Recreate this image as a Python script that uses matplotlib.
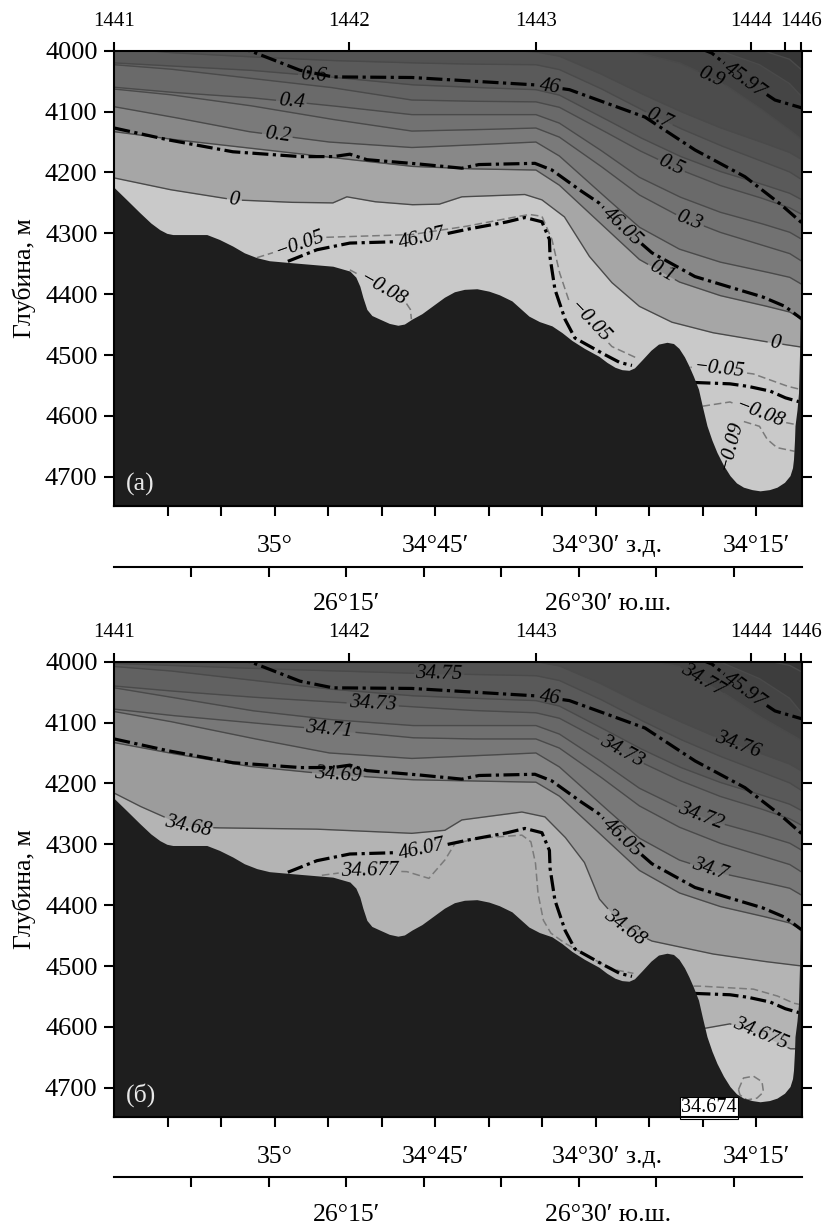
import numpy as np
import matplotlib
matplotlib.use('Agg')
import matplotlib.pyplot as plt

plt.rcParams['font.family'] = ['Liberation Serif', 'DejaVu Serif']

# distance along the section, km (station 1441 = 0)
XMAX = 137.5
stations_km = [0, 46.9, 84.3, 127.4, 134.1, 137.4]
stations_lab = ['1441', '1442', '1443', '1444', '', '1446']
depth_ticks = [4000, 4100, 4200, 4300, 4400, 4500, 4600, 4700]

lon_ticks_km = [10.7, 21.4, 32.1, 42.8, 53.5, 64.2, 74.9, 85.6, 96.3, 107.0, 117.7, 128.3]
lon_lab_km = [32.1, 64.2, 98.6, 128.3]
lon_lab = ['35°', '34°45′', '34°30′ з.д.', '34°15′']
lat_ticks_km = [15.4, 30.9, 46.4, 61.9, 77.4, 92.9, 108.4, 123.9]
lat_lab_km = [46.4, 98.7]
lat_lab = ['26°15′', '26°30′ ю.ш.']

# bottom topography
bottom_km = [0, 2.5, 5.1, 7.3, 9.1, 10.5, 11.7, 18.5, 21, 23.7, 26, 28.5, 31, 35.1, 43.7,
             47.1, 48.3, 49.1, 49.7, 50.5, 51.5, 53.1, 55, 56.7, 58, 59.5, 61.5, 63.5, 66,
             68, 70, 72.5, 74.9, 77, 79.5, 82.9, 85, 87.5, 89.5, 91.5, 94, 96.9, 98.5,
             100.1, 101.5, 102.9, 104, 105.5, 107.3, 108.8, 110.5, 111.8, 112.9, 114,
             114.9, 115.8, 116.8, 117.6, 118.5, 119.5, 120.5, 121.8, 123.1, 124.4, 125.8,
             127.5, 129.1, 131, 132.5, 134, 135.1, 135.6, 135.8, 136.0, 136.1, 136.5,
             136.8, 137.0, 137.1, 137.5]
bottom_d = [4225, 4245, 4266, 4283, 4294, 4300, 4302, 4302, 4310, 4321, 4332, 4340, 4345,
            4348, 4354, 4362, 4372, 4387, 4405, 4425, 4435, 4441, 4448, 4451, 4449, 4441,
            4432, 4420, 4405, 4396, 4392, 4391, 4395, 4401, 4411, 4436, 4445, 4452, 4463,
            4476, 4489, 4502, 4512, 4520, 4524, 4525, 4521, 4508, 4492, 4482, 4479, 4481,
            4489, 4503, 4518, 4535, 4556, 4585, 4616, 4640, 4660, 4681, 4698, 4710, 4717,
            4721, 4723, 4721, 4717, 4709, 4698, 4685, 4671, 4640, 4616, 4590, 4562, 4500,
            4440, 4435]

# neutral density isolines (dash-dot), same in both panels
g4597_km = [117.1, 119.5, 126.1, 132.1, 137.5]
g4597_d = [3996, 4004, 4048, 4081, 4094]
g46_km = [24, 27.1, 37.1, 43.7, 59.5, 84.1, 91, 106.1, 116.1, 126.1, 132.9, 137.5]
g46_d = [3995, 4000, 4032, 4043, 4044, 4056, 4064, 4109, 4163, 4207, 4250, 4283]
g4605_km = [0, 10.5, 23.7, 37.1, 43.7, 47.1, 50.5, 59.5, 69.5, 72.9, 84.1, 87.5, 92.9,
            96.9, 101.5, 107.5, 116.1, 122.9, 129.5, 134.1, 137.5]
g4605_d = [4127, 4146, 4166, 4174, 4174, 4170, 4179, 4185, 4193, 4187, 4185, 4196, 4228,
           4250, 4289, 4332, 4371, 4388, 4404, 4420, 4441]
g4607a_km = [34.7, 40.5, 47.1, 59.5, 70.1, 78.1, 82.1, 85.5, 87.0, 87.1, 88.1, 90.1, 92.1,
             97.1, 101.0, 103.5]
g4607a_d = [4346, 4327, 4316, 4313, 4294, 4282, 4274, 4281, 4310, 4338, 4392, 4441, 4472,
            4495, 4512, 4517]
g4607b_km = [116.0, 122.9, 126.5, 131.1, 134.1, 137.5]
g4607b_d = [4545, 4547, 4551, 4559, 4570, 4578]

# (a) potential temperature isolines on a common x grid
iso_km = [0, 11, 27, 43, 59.5, 71, 84.3, 89, 97, 105, 113, 121, 129, 135, 137.5]
t11 = [3960, 3962, 3965, 3968, 3970, 3972, 3975, 3978, 3982, 3986, 3990, 3992, 3998, 4014, 4032]
t10 = [3960, 3962, 3965, 3968, 3970, 3972, 3975, 3978, 3982, 3988, 3995, 4000, 4023, 4054, 4076]
t09 = [3960, 3962, 3965, 3968, 3972, 3976, 3982, 3986, 3992, 4004, 4020, 4050, 4094, 4130, 4146]
t08 = [3970, 3972, 3975, 3980, 3988, 3994, 4002, 4009, 4037, 4069, 4099, 4126, 4149, 4167, 4179]
t07 = [3995, 4003, 4010, 4016, 4020, 4022, 4023, 4031, 4061, 4095, 4127, 4155, 4180, 4199, 4212]
t06 = [4020, 4025, 4032, 4043, 4056, 4060, 4064, 4073, 4107, 4142, 4173, 4198, 4218, 4234, 4245]
t05 = [4023, 4030, 4045, 4060, 4081, 4083, 4084, 4093, 4128, 4164, 4195, 4221, 4241, 4258, 4269]
t04 = [4060, 4068, 4077, 4090, 4105, 4105, 4105, 4119, 4162, 4208, 4240, 4265, 4283, 4298, 4310]
t03 = [4063, 4072, 4090, 4112, 4132, 4130, 4127, 4142, 4188, 4237, 4272, 4298, 4318, 4333, 4346]
t02 = [4092, 4108, 4133, 4150, 4159, 4155, 4150, 4173, 4232, 4290, 4326, 4347, 4361, 4372, 4384]
t01 = [4133, 4145, 4160, 4175, 4190, 4194, 4196, 4221, 4282, 4343, 4380, 4402, 4417, 4429, 4441]
t00_km = [0, 11, 24, 35, 43.7, 46.5, 52, 59.5, 65, 69.5, 76, 82, 85.5, 90, 95, 99.5, 105,
          111.5, 119.5, 129.5, 137.5]
t00_d = [4209, 4228, 4245, 4249, 4250, 4240, 4248, 4253, 4252, 4240, 4238, 4236, 4245, 4273,
         4338, 4381, 4420, 4446, 4463, 4477, 4487]
temp_colors = ['#3e3e3e', '#454545', '#4c4c4c', '#535353', '#5a5a5a', '#636363', '#6a6a6a',
               '#727272', '#7a7a7a', '#888888', '#a6a6a6', '#c9c9c9']

# negative temperatures (dashed)
m005a_km = [28.5, 37.1, 40.5, 59.5, 70, 79.5, 83, 85.5, 87.5, 89, 91, 95, 99.5, 104.5]
m005a_d = [4340, 4318, 4307, 4302, 4289, 4274, 4269, 4272, 4310, 4364, 4413, 4446, 4486, 4505]
m008a_km = [47.1, 50.5, 53.8, 57.9, 59.2, 59.4]
m008a_d = [4360, 4375, 4392, 4409, 4425, 4441]
m005b_km = [115.2, 120.5, 127.8, 134.5, 137.0]
m005b_d = [4520, 4523, 4531, 4551, 4556]
m008b_km = [117.6, 123.1, 129.1, 133.1, 136.2]
m008b_d = [4584, 4577, 4597, 4609, 4614]
m009_km = [122.6, 123.1, 124.3, 125.8, 129, 130.5, 132.5, 136.0]
m009_d = [4688, 4650, 4625, 4609, 4617, 4638, 4652, 4658]

# (б) salinity isolines
s79 = [3960, 3962, 3965, 3968, 3970, 3972, 3975, 3978, 3982, 3986, 3990, 3993, 3996, 4006, 4017]
s78 = [3960, 3962, 3965, 3968, 3970, 3972, 3975, 3978, 3982, 3988, 3995, 4000, 4028, 4060, 4085]
s77 = [3960, 3962, 3965, 3968, 3972, 3976, 3982, 3986, 3992, 3997, 4008, 4047, 4090, 4118, 4130]
s76 = [3970, 3972, 3975, 3980, 3988, 3994, 4000, 4007, 4035, 4068, 4098, 4126, 4150, 4168, 4180]
s75 = [4003, 4006, 4011, 4015, 4019, 4021, 4023, 4031, 4061, 4095, 4127, 4155, 4180, 4199, 4212]
s74 = [4008, 4015, 4030, 4045, 4056, 4060, 4064, 4073, 4107, 4142, 4173, 4198, 4218, 4234, 4245]
s73 = [4040, 4048, 4058, 4066, 4074, 4080, 4084, 4093, 4128, 4164, 4195, 4221, 4241, 4258, 4269]
s72 = [4043, 4058, 4080, 4095, 4105, 4105, 4105, 4119, 4162, 4208, 4240, 4265, 4283, 4298, 4310]
s71 = [4078, 4088, 4100, 4112, 4125, 4127, 4127, 4142, 4188, 4237, 4272, 4298, 4318, 4333, 4346]
s70 = [4082, 4098, 4125, 4150, 4159, 4155, 4150, 4173, 4232, 4290, 4326, 4347, 4361, 4372, 4384]
s69 = [4133, 4150, 4172, 4185, 4194, 4196, 4198, 4221, 4282, 4343, 4380, 4402, 4417, 4429, 4441]
s68_km = [0, 5, 10.5, 14.8, 20.5, 40, 59.5, 66.1, 69.5, 81.5, 86.1, 90.1, 94, 97, 102, 107.5,
          119.5, 129.5, 137.5]
s68_d = [4216, 4237, 4257, 4271, 4273, 4275, 4282, 4277, 4260, 4247, 4255, 4288, 4330, 4390,
         4437, 4459, 4480, 4492, 4500]
s675_km = [116.5, 117.6, 123.1, 129.1, 135.2, 137.5]
s675_d = [4603, 4603, 4595, 4612, 4636, 4636]
sal_colors = ['#3d3d3d', '#444444', '#4b4b4b', '#525252', '#595959', '#616161', '#686868',
              '#707070', '#787878', '#858585', '#9c9c9c', '#b4b4b4', '#c8c8c8']

s677a_km = [41.5, 46, 51.1, 58.5, 62.9, 66.1, 68.1, 72.9, 81.5, 83.3, 84.2, 84.7, 85.8, 87.3,
            90, 93, 96.5, 100, 103.8]
s677a_d = [4351, 4346, 4343, 4345, 4356, 4326, 4299, 4290, 4285, 4296, 4330, 4380, 4425, 4446,
           4462, 4476, 4492, 4506, 4512]
s677b_km = [115.8, 117.1, 127.8, 132.5, 135.8, 137.0]
s677b_d = [4533, 4533, 4538, 4549, 4561, 4563]
s674_km = [124.8, 125.8, 127.8, 129.5, 129.8, 128.5, 126.5, 125.1, 124.8]
s674_d = [4703, 4684, 4681, 4690, 4707, 4717, 4720, 4712, 4703]

fig = plt.figure(figsize=(8.24, 12.28), dpi=100)
renderer = fig.canvas.get_renderer()

L, W, H = 0.1387, 0.8346, 0.3708

solid_kw = dict(color='#4a4a4a', lw=1.0, zorder=2)
dash_kw = dict(color='#7a7a7a', lw=1.1, ls=(0, (5, 2.5)), zorder=2)
dd_kw = dict(color='black', lw=2.3, ls=(0, (5, 1.4, 1.0, 1.4)), zorder=3)


def densify(xs, ds, n=40):
    xs = np.asarray(xs, float)
    ds = np.asarray(ds, float)
    i = np.arange(len(xs))
    t = np.linspace(0, len(xs) - 1, (len(xs) - 1) * n + 1)
    return np.interp(t, i, xs), np.interp(t, i, ds)


def draw_iso(ax, xs, ds, labels=(), fs=15, **kw):
    x, d = densify(xs, ds)
    pts = ax.transData.transform(np.column_stack([x, d]))
    s = np.concatenate([[0], np.cumsum(np.hypot(*np.diff(pts, axis=0).T))])
    keep = np.ones(len(x), bool)
    for text, lx, ld in labels:
        tp = ax.transData.transform((lx, ld))
        k = np.argmin(np.hypot(pts[:, 0] - tp[0], pts[:, 1] - tp[1]))
        idx = np.where(np.abs(s - s[k]) < 10)[0]
        dx, dy = pts[idx[-1]] - pts[idx[0]]
        ang = np.degrees(np.arctan2(dy, dx))
        if ang > 90:
            ang -= 180
        elif ang < -90:
            ang += 180
        t = ax.text(x[k], d[k], text, ha='center', va='center', fontsize=fs,
                    style='italic', rotation_mode='anchor', zorder=6)
        w = t.get_window_extent(renderer).width
        t.set_rotation(ang)
        keep &= np.abs(s - s[k]) > w / 2 + 2
    ax.plot(np.where(keep, x, np.nan), d, **kw)


def make_panel(bottom, lat_y, top_color, letter):
    ax = fig.add_axes([L, bottom, W, H])
    ax.set_xlim(0, XMAX)
    ax.set_ylim(4748, 4000)
    ax.set_facecolor(top_color)
    for sp in ax.spines.values():
        sp.set_linewidth(1.5)
        sp.set_zorder(10)
    ax.set_yticks(depth_ticks)
    ax.tick_params(axis='y', direction='out', length=7, width=1.5, labelsize=19,
                   pad=5, right=True, labelright=False)
    ax.xaxis.tick_top()
    ax.set_xticks(stations_km)
    ax.set_xticklabels(stations_lab)
    ax.tick_params(axis='x', direction='out', length=6.5, width=1.5, labelsize=15, pad=8)
    ax.text(-0.1313, 0.5, 'Глубина, м', transform=ax.transAxes, rotation=90,
            ha='center', va='center', fontsize=18.5)

    sec = ax.secondary_xaxis('bottom')
    sec.set_xticks(lon_ticks_km)
    sec.set_xticklabels([])
    sec.tick_params(direction='out', length=7.5, width=1.5)
    sec.spines['bottom'].set_linewidth(1.5)
    for x, txt in zip(lon_lab_km, lon_lab):
        ax.annotate(txt, xy=(x, 0), xycoords=('data', 'axes fraction'), xytext=(0, -29),
                    textcoords='offset points', ha='center', va='center', fontsize=18.5,
                    annotation_clip=False)

    lat = fig.add_axes([L, lat_y, W, 0.0001])
    lat.set_xlim(0, XMAX)
    lat.patch.set_visible(False)
    for s in ['top', 'left', 'right']:
        lat.spines[s].set_visible(False)
    lat.spines['bottom'].set_linewidth(1.5)
    lat.set_yticks([])
    lat.set_xticks(lat_ticks_km)
    lat.set_xticklabels([])
    lat.tick_params(axis='x', direction='out', length=7.5, width=1.5)
    for x, txt in zip(lat_lab_km, lat_lab):
        lat.annotate(txt, xy=(x, 0), xycoords=('data', 'axes fraction'), xytext=(0, -27),
                     textcoords='offset points', ha='center', va='center', fontsize=18.5,
                     annotation_clip=False)

    ax.fill_between(bottom_km, bottom_d, 4800, color='#1e1e1e', lw=0, zorder=4)
    ax.text(2.3, 4712, letter, color='#e8e8e8', fontsize=18.5, ha='left', va='center', zorder=7)

    draw_iso(ax, g4597_km, g4597_d, [('45.97', 126.1, 4048)], **dd_kw)
    draw_iso(ax, g46_km, g46_d, [('46', 87, 4062)], **dd_kw)
    draw_iso(ax, g4605_km, g4605_d, [('46.05', 101.5, 4289)], **dd_kw)
    draw_iso(ax, g4607a_km, g4607a_d, [('46.07', 61.5, 4306)], **dd_kw)
    draw_iso(ax, g4607b_km, g4607b_d, **dd_kw)
    return ax


# ---- panel (a): potential temperature ----
axa = make_panel(0.5879, 0.5385, '#373737', '(а)')
temp_lines = [t11, t10, t09, t08, t07, t06, t05, t04, t03, t02, t01]
for d, c in zip(temp_lines, temp_colors[:-1]):
    axa.fill_between(iso_km, d, 4800, color=c, lw=0, zorder=1)
axa.fill_between(t00_km, t00_d, 4800, color=temp_colors[-1], lw=0, zorder=1)

temp_labels = {
    9: [('0.9', 119.5, 4043)], 7: [('0.7', 109, 4109)], 6: [('0.6', 39.7, 4045)],
    5: [('0.5', 111, 4196)], 4: [('0.4', 35.5, 4084)], 3: [('0.3', 114.7, 4286)],
    2: [('0.2', 32.5, 4141)], 1: [('0.1', 110, 4354)],
}
for d, lev in zip(temp_lines, [11, 10, 9, 8, 7, 6, 5, 4, 3, 2, 1]):
    draw_iso(axa, iso_km, d, temp_labels.get(lev, []), **solid_kw)
draw_iso(axa, t00_km, t00_d, [('0', 24.1, 4245), ('0', 132, 4485)], **solid_kw)
draw_iso(axa, m005a_km, m005a_d, [('−0.05', 37.1, 4318), ('−0.05', 95, 4446)], **dash_kw)
draw_iso(axa, m008a_km, m008a_d, [('−0.08', 53.8, 4392)], **dash_kw)
draw_iso(axa, m005b_km, m005b_d, [('−0.05', 121, 4522)], **dash_kw)
draw_iso(axa, m008b_km, m008b_d, [('−0.08', 129.1, 4597)], **dash_kw)
draw_iso(axa, m009_km, m009_d, [('−0.09', 123.2, 4648)], **dash_kw)

# ---- panel (б): salinity ----
axb = make_panel(0.0904, 0.0415, '#363636', '(б)')
sal_lines = [s79, s78, s77, s76, s75, s74, s73, s72, s71, s70, s69]
for d, c in zip(sal_lines, sal_colors[:11]):
    axb.fill_between(iso_km, d, 4800, color=c, lw=0, zorder=1)
axb.fill_between(s68_km, s68_d, 4800, color=sal_colors[11], lw=0, zorder=1)
axb.fill_between(s675_km, s675_d, 4800, color=sal_colors[12], lw=0, zorder=1)

sal_labels = [[], [], [('34.77', 117.5, 4030)], [('34.76', 124.5, 4139)],
              [('34.75', 65, 4018)], [],
              [('34.73', 51.8, 4070), ('34.73', 101.5, 4145)], [('34.72', 117, 4255)],
              [('34.71', 42.8, 4114)], [('34.7', 119, 4340)], [('34.69', 44.5, 4190)]]
for d, lab in zip(sal_lines, sal_labels):
    draw_iso(axb, iso_km, d, lab, **solid_kw)
draw_iso(axb, s68_km, s68_d, [('34.68', 14.8, 4271), ('34.68', 102, 4437)], **solid_kw)
draw_iso(axb, s675_km, s675_d, [('34.675', 129.1, 4612)], **solid_kw)
draw_iso(axb, s677a_km, s677a_d, [('34.677', 51.1, 4343)], **dash_kw)
draw_iso(axb, s677b_km, s677b_d, **dash_kw)
draw_iso(axb, s674_km, s674_d, **dash_kw)
axb.text(118.9, 4733, '34.674', fontsize=14.5, ha='center', va='center', zorder=8,
         bbox=dict(boxstyle='square,pad=0.08', fc='white', ec='black', lw=0.8))

fig.savefig('out.png', dpi=100)
